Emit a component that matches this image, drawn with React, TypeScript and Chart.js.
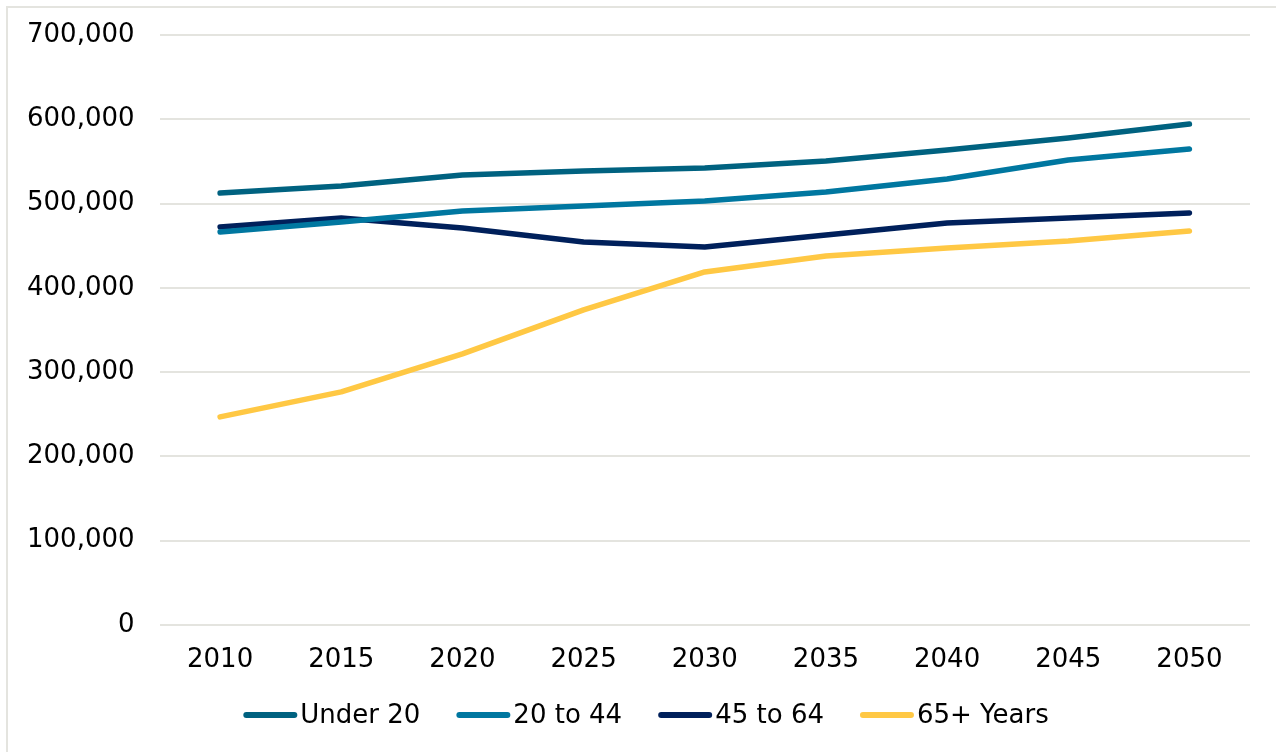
import React, { useEffect, useRef } from "react";
import { Chart, registerables } from "chart.js";

Chart.register(...registerables);

const years = ["2010", "2015", "2020", "2025", "2030", "2035", "2040", "2045", "2050"];
const under20 = [512500, 520800, 533900, 538600, 542200, 550500, 563500, 577800, 594400];
const age20to44 = [466300, 478100, 491200, 497100, 503000, 513700, 529100, 551700, 564700];
const age45to64 = [472200, 482900, 471000, 454400, 448400, 462700, 476900, 482900, 488800];
const age65plus = [246800, 276400, 321500, 373700, 418800, 437800, 447300, 455600, 467400];

const FONT = "'DejaVu Sans', sans-serif";
const FONT_SIZE = 26;

// Legend drawn below the axis: a short rounded stroke in the series colour
// followed closely by the series name, all items centred as one row.
const lineLegend = {
  id: "lineLegend",
  afterDraw(chart: Chart) {
    const ctx = chart.ctx;
    const sets = chart.data.datasets;
    const swatch = 54;
    const gap = 3;
    const spacing = 36;
    ctx.save();
    ctx.font = `${FONT_SIZE}px ${FONT}`;
    const widths = sets.map((d) => swatch + gap + ctx.measureText(String(d.label)).width);
    const total = widths.reduce((a, b) => a + b, 0) + spacing * (sets.length - 1);
    let x = chart.width / 2 + 8 - total / 2;
    const y = 715;
    sets.forEach((d, i) => {
      ctx.strokeStyle = String(d.borderColor);
      ctx.lineWidth = 6;
      ctx.lineCap = "round";
      ctx.beginPath();
      ctx.moveTo(x + 3, y);
      ctx.lineTo(x + swatch - 3, y);
      ctx.stroke();
      ctx.fillStyle = "#000";
      ctx.textBaseline = "middle";
      ctx.textAlign = "left";
      ctx.fillText(String(d.label), x + swatch + gap, y + 1);
      x += widths[i] + spacing;
    });
    ctx.restore();
  },
};

export default function App() {
  const canvasRef = useRef<HTMLCanvasElement | null>(null);

  useEffect(() => {
    if (!canvasRef.current) return;
    const line = (label: string, data: number[], color: string) => ({
      label,
      data,
      borderColor: color,
      backgroundColor: color,
      borderWidth: 5.5,
      borderCapStyle: "round" as const,
      borderJoinStyle: "round" as const,
      pointRadius: 0,
      pointHoverRadius: 0,
      tension: 0,
      fill: false,
    });
    const chart = new Chart(canvasRef.current, {
      type: "line",
      data: {
        labels: years,
        datasets: [
          line("Under 20", under20, "#006280"),
          line("20 to 44", age20to44, "#0077A0"),
          line("45 to 64", age45to64, "#00205B"),
          line("65+ Years", age65plus, "#FFC844"),
        ],
      },
      plugins: [lineLegend],
      options: {
        animation: false,
        responsive: false,
        maintainAspectRatio: false,
        layout: { padding: { top: 35, right: 26, left: 2, bottom: 56 } },
        plugins: {
          tooltip: { enabled: false },
          legend: { display: false },
        },
        scales: {
          x: {
            offset: true,
            grid: { display: false, drawTicks: false },
            border: { display: false },
            ticks: {
              color: "#000",
              padding: 20,
              maxRotation: 0,
              font: { family: FONT, size: FONT_SIZE },
            },
          },
          y: {
            min: 0,
            max: 700000,
            grid: { color: "#E4E4DF", lineWidth: 2, drawTicks: false },
            border: { display: false },
            afterFit: (scale) => {
              // the tick padding is horizontal here; keep it off the top/bottom
              scale.paddingTop = 0;
              scale.paddingBottom = 0;
            },
            ticks: {
              stepSize: 100000,
              color: "#000",
              padding: 25,
              font: { family: FONT, size: FONT_SIZE },
              callback: (v) => Number(v).toLocaleString("en-US"),
            },
          },
        },
      },
    });
    return () => chart.destroy();
  }, []);

  return (
    <div style={{ position: "fixed", left: 0, top: 0, width: 1276, height: 752, background: "#fff" }}>
      <div
        style={{
          position: "absolute",
          left: 6,
          top: 6,
          width: 1300,
          height: 800,
          borderLeft: "2px solid #E4E4DF",
          borderTop: "2px solid #E4E4DF",
        }}
      />
      <canvas ref={canvasRef} width={1276} height={752} style={{ position: "absolute", left: 0, top: 0 }} />
    </div>
  );
}
